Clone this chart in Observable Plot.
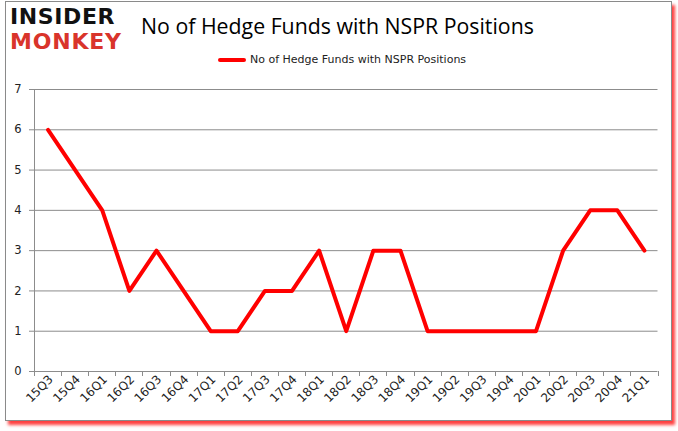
<!DOCTYPE html>
<html><head><meta charset="utf-8">
<script src="https://cdn.jsdelivr.net/npm/d3@7"></script>
<script src="https://cdn.jsdelivr.net/npm/@observablehq/plot@0.6"></script>
<style>
body{margin:0;background:#fff;font-family:"DejaVu Sans",sans-serif;}
#wrap{position:relative;width:678px;height:431px;overflow:hidden;background:#fff;}
#frame{position:absolute;left:5px;top:1px;width:665px;height:418px;border:1px solid #8a8a8a;box-shadow:3px 4px 3px rgba(255,0,0,0.75);background:#fff;}
.logo{position:absolute;left:10px;font-family:"DejaVu Sans";font-weight:bold;font-size:22px;line-height:22px;height:22px;white-space:nowrap;}
#l1{top:6px;color:#111;letter-spacing:0.6px;}
#l2{top:31px;color:#d9342b;letter-spacing:0.8px;}
#title{position:absolute;left:141px;top:11px;font-family:"Open Sans";font-size:21.3px;color:#000;}
#legend{position:absolute;left:218px;top:53px;font-family:"DejaVu Sans";font-size:11px;color:#222;display:flex;align-items:center;}
#legend .sw{width:28px;height:4px;background:#ff0000;margin-right:4px;border-radius:2px;}
#chart{position:absolute;left:0;top:75px;}
</style></head>
<body><div id="wrap"><div id="frame"></div>
<div class="logo" id="l1">INSIDER</div>
<div class="logo" id="l2">MONKEY</div>
<div id="title">No of Hedge Funds with NSPR Positions</div>
<div id="legend"><div class="sw"></div>No of Hedge Funds with NSPR Positions</div>
<div id="chart"></div></div>
<script>
const quarters = ["15Q3","15Q4","16Q1","16Q2","16Q3","16Q4","17Q1","17Q2","17Q3","17Q4","18Q1","18Q2","18Q3","18Q4","19Q1","19Q2","19Q3","19Q4","20Q1","20Q2","20Q3","20Q4","21Q1"];
const funds = [6,5,4,2,3,2,1,1,2,2,3,1,3,3,1,1,1,1,1,3,4,4,3];
const yTicks = [0,1,2,3,4,5,6,7];
const data = quarters.map((q,i)=>({q, v: funds[i]}));

const plot = Plot.plot({
  width: 678, height: 356,
  marginLeft: 34, marginRight: 20.5, marginTop: 14, marginBottom: 60,
  style: {fontFamily: "DejaVu Sans", fontSize: "11.5px", color: "#222", background: "transparent"},
  x: {type: "band", domain: quarters, padding: 0, round: false, label: null, axis: null},
  y: {domain: [0,7], ticks: yTicks, label: null, axis: null},
  marks: [
    Plot.ruleY(yTicks.filter(d=>d>0), {stroke: "#8c8c8c", strokeWidth: 1}),
    Plot.axisY({ticks: yTicks, tickSize: 5, tickPadding: 8, stroke: "#8c8c8c", tickFormat: d=>d, fill: "#222", fontSize: 11.5}),
    Plot.axisX({tickSize: 0, tickRotate: -45, tickPadding: 6, textAnchor: "end", fill: "#222", dx: 3, fontSize: 12}),
    Plot.line(data, {x: "q", y: "v", stroke: "#ff0000", strokeWidth: 4, strokeLinejoin: "round", strokeLinecap: "round"})
  ]
});
document.getElementById("chart").appendChild(plot);

const xs = plot.scale("x"), ys = plot.scale("y");
const svg = d3.select(plot);
const y0 = ys.apply(0), y7 = ys.apply(7);
const left = xs.apply(quarters[0]);
const bw = xs.bandwidth;
const g = svg.append("g").attr("stroke","#8c8c8c").attr("stroke-width",1);
g.append("line").attr("x1",left).attr("x2",left+bw*quarters.length).attr("y1",Math.round(y0)+0.5).attr("y2",Math.round(y0)+0.5);
g.append("line").attr("x1",Math.round(left)+0.5).attr("x2",Math.round(left)+0.5).attr("y1",y7).attr("y2",y0);
for(let i=0;i<=quarters.length;i++){
  const x = Math.round(left+bw*i)+0.5;
  g.append("line").attr("x1",x).attr("x2",x).attr("y1",y0).attr("y2",y0+5);
}
</script></body></html>
